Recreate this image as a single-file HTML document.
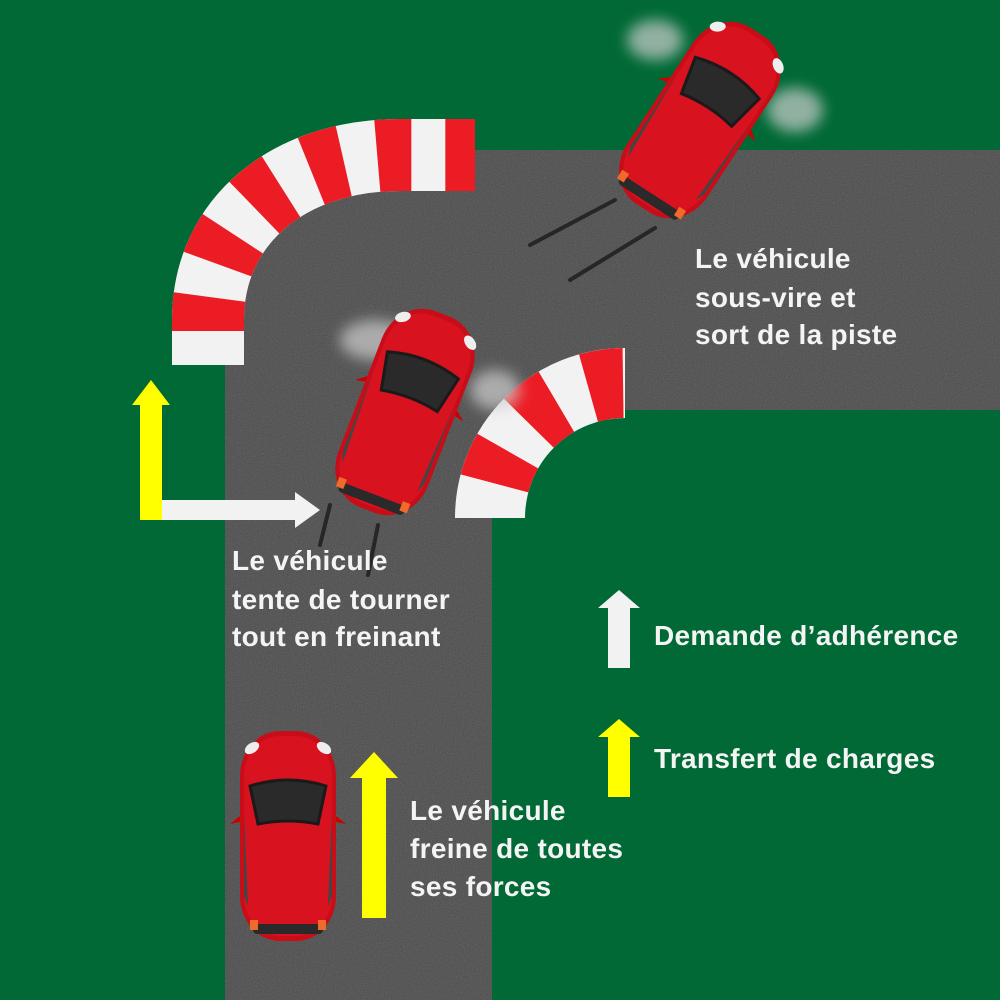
<!DOCTYPE html>
<html><head><meta charset="utf-8"><style>
html,body{margin:0;padding:0;}
body{width:1000px;height:1000px;overflow:hidden;background:#006935;}
svg{display:block}
text{font-family:"Liberation Sans",sans-serif;font-weight:bold;font-size:28px;fill:#f4f4f4;letter-spacing:0.3px}
</style></head><body>
<svg width="1000" height="1000" viewBox="0 0 1000 1000" xmlns="http://www.w3.org/2000/svg">
<defs>
<filter id="noise" x="0" y="0" width="100%" height="100%">
<feTurbulence type="fractalNoise" baseFrequency="0.9" numOctaves="2" seed="3" result="n"/>
<feColorMatrix type="saturate" values="0"/>
<feComponentTransfer><feFuncA type="table" tableValues="0 0.25"/></feComponentTransfer>
<feComposite in2="SourceGraphic" operator="in"/>
</filter>
<filter id="blur" x="-50%" y="-50%" width="200%" height="200%"><feGaussianBlur stdDeviation="7"/></filter>
<g id="car">
<rect x="-48" y="-105" width="96" height="210" rx="40" ry="45" fill="#c80d18"/>
<rect x="-44" y="-100" width="88" height="200" rx="36" ry="40" fill="#d8121e"/>
<path d="M-38,-50 Q0,-62 38,-50 L30,-12 Q0,-18 -30,-12 Z" fill="#2a2a2a" stroke="#1a1a1a" stroke-width="3"/>
<path d="M-44,-25 L-40,70 L-44,60 Z" fill="#444"/>
<path d="M44,-25 L40,70 L44,60 Z" fill="#444"/>
<rect x="-35" y="88" width="70" height="10" rx="4" fill="#2a2a2a"/>
<rect x="-38" y="84" width="8" height="10" fill="#f06a2a"/>
<rect x="30" y="84" width="8" height="10" fill="#f06a2a"/>
<ellipse cx="-36" cy="-88" rx="8" ry="5" fill="#eee" transform="rotate(-35 -36 -88)"/>
<ellipse cx="36" cy="-88" rx="8" ry="5" fill="#eee" transform="rotate(35 36 -88)"/>
<path d="M-48,-20 L-58,-12 L-48,-14 Z" fill="#c00"/>
<path d="M48,-20 L58,-12 L48,-14 Z" fill="#c00"/>
</g>
</defs>
<!-- road -->
<path d="M225,1000 V365 H208 V320 C208,220 290,155 400,155 H475 V150 H1000 V410 H492 V1000 Z" fill="#4a4a4a"/>
<path d="M225,1000 V365 H208 V320 C208,220 290,155 400,155 H475 V150 H1000 V410 H492 V1000 Z" fill="#fff" filter="url(#noise)"/>
<!-- outer curb -->
<path d="M208,365 V320 C208,220 290,155 400,155 H475" fill="none" stroke="#f2f2f2" stroke-width="72"/>
<path d="M208,365 V320 C208,220 290,155 400,155 H475" fill="none" stroke="#ec1c24" stroke-width="72" stroke-dasharray="34 34" stroke-dashoffset="-34"/>
<!-- inner curb -->
<path d="M490,518 A135,135 0 0 1 625,383" fill="none" stroke="#f2f2f2" stroke-width="70"/>
<path d="M490,518 A135,135 0 0 1 625,383" fill="none" stroke="#ec1c24" stroke-width="70" stroke-dasharray="35 35" stroke-dashoffset="-35"/>
<!-- skid marks -->
<g stroke="#1e1e1e" stroke-width="4" stroke-linecap="round" opacity="0.85">
<line x1="530" y1="245" x2="615" y2="200"/>
<line x1="570" y1="280" x2="655" y2="228"/>
<line x1="320" y1="545" x2="330" y2="505"/>
<line x1="368" y1="575" x2="378" y2="525"/>
</g>
<!-- smoke -->
<g fill="#cfcfcf" opacity="0.7" filter="url(#blur)">
<ellipse cx="655" cy="40" rx="28" ry="20"/>
<ellipse cx="795" cy="110" rx="28" ry="22"/>
<ellipse cx="375" cy="340" rx="35" ry="20"/>
<ellipse cx="495" cy="390" rx="25" ry="20"/>
</g>
<!-- cars -->
<use href="#car" transform="translate(288,836)"/>
<use href="#car" transform="translate(405,412) rotate(21)"/>
<use href="#car" transform="translate(700,120) rotate(33)"/>
<!-- arrows -->
<path d="M140,520 V405 H132 L151,380 L170,405 H162 V520 Z" fill="#ffff00"/>
<path d="M162,500 H295 V492 L320,510 L295,528 V520 H162 Z" fill="#f2f2f2"/>
<path d="M362,918 V778 H350 L374,752 L398,778 H386 V918 Z" fill="#ffff00"/>
<path d="M608,668 V608 H598 L619,590 L640,608 H630 V668 Z" fill="#f2f2f2"/>
<path d="M608,797 V737 H598 L619,719 L640,737 H630 V797 Z" fill="#ffff00"/>
<!-- text -->
<text x="695" y="268">Le véhicule</text>
<text x="695" y="307">sous-vire et</text>
<text x="695" y="344">sort de la piste</text>
<text x="232" y="570">Le véhicule</text>
<text x="232" y="609">tente de tourner</text>
<text x="232" y="646">tout en freinant</text>
<text x="410" y="820">Le véhicule</text>
<text x="410" y="858">freine de toutes</text>
<text x="410" y="896">ses forces</text>
<text x="654" y="645">Demande d’adhérence</text>
<text x="654" y="768">Transfert de charges</text>
</svg>
</body></html>
